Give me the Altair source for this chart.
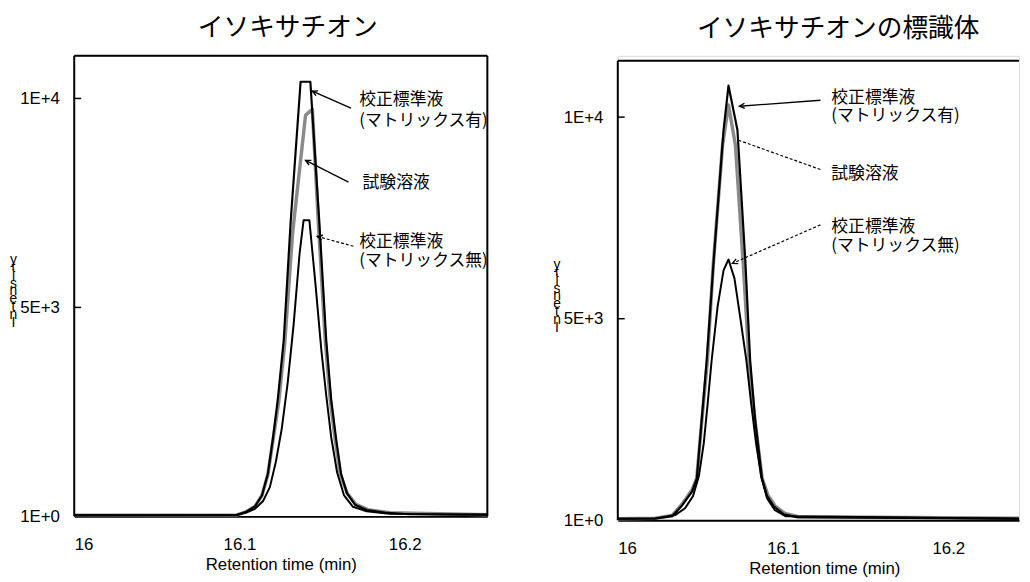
import math
import altair as alt
import pandas as pd

# ---------------- data ----------------
# Left panel: イソキサチオン
L_mat_t = [16.000, 16.0981, 16.1041, 16.1094, 16.1136, 16.1172, 16.1202, 16.1232, 16.1268, 16.1310, 16.1370,
           16.1429, 16.1483, 16.1525, 16.1555, 16.1585, 16.1615, 16.1651, 16.1699, 16.1770, 16.1878, 16.2028, 16.2500]
L_mat_v = [25, 30, 110, 240, 500, 1020, 1850, 2800, 4220, 7060, 10400,
           10400, 7060, 4220, 2800, 1850, 1020, 550, 280, 150, 90, 50, 40]
L_test_t = [16.000, 16.0981, 16.1041, 16.1094, 16.1136, 16.1172, 16.1202, 16.1238, 16.1274, 16.1322, 16.1400,
            16.1441, 16.1477, 16.1519, 16.1549, 16.1579, 16.1609, 16.1651, 16.1705, 16.1776, 16.1908, 16.2500]
L_test_v = [25, 30, 110, 240, 500, 1000, 1800, 2750, 4150, 6800, 9600,
            9740, 7060, 4220, 2800, 1850, 1020, 560, 290, 160, 90, 40]
L_nomat_t = [16.000, 16.0981, 16.1041, 16.1094, 16.1142, 16.1184, 16.1220, 16.1256, 16.1292, 16.1328, 16.1364,
             16.1388, 16.1423, 16.1459, 16.1495, 16.1525, 16.1555, 16.1591, 16.1633, 16.1687, 16.1770, 16.1908, 16.2500]
L_nomat_v = [25, 30, 90, 180, 360, 700, 1300, 2100, 3200, 4600, 6300,
             7085, 7085, 5600, 4000, 2900, 1900, 1050, 500, 230, 120, 60, 40]

# Right panel: イソキサチオンの標識体
R_mat_t = [16.000, 16.0227, 16.0329, 16.0389, 16.0449, 16.0478, 16.0508, 16.0538, 16.0580, 16.0640, 16.0670,
           16.0724, 16.0772, 16.0801, 16.0831, 16.0873, 16.0903, 16.0945, 16.1005, 16.1083, 16.2428]
R_mat_v = [40, 45, 100, 370, 710, 1030, 2500, 3970, 6420, 9680, 10780,
           9680, 6420, 3970, 2500, 1030, 610, 340, 150, 80, 40]
R_test_t = [16.000, 16.0227, 16.0329, 16.0389, 16.0449, 16.0478, 16.0508, 16.0541, 16.0577, 16.0634, 16.0670,
            16.0712, 16.0760, 16.0795, 16.0831, 16.0873, 16.0909, 16.0951, 16.1011, 16.1094, 16.2428]
R_test_v = [40, 50, 120, 400, 750, 1050, 2450, 3900, 6300, 9300, 10300,
            9300, 6300, 3900, 2450, 1050, 620, 360, 170, 90, 50]
R_nomat_t = [16.000, 16.0227, 16.0347, 16.0407, 16.0455, 16.0491, 16.0520, 16.0544, 16.0568, 16.0604, 16.0640,
             16.0670, 16.0706, 16.0742, 16.0778, 16.0807, 16.0837, 16.0867, 16.0903, 16.0951, 16.1017, 16.2428]
R_nomat_v = [40, 45, 130, 300, 600, 1100, 1900, 2900, 3970, 5300, 6200,
             6470, 6000, 5000, 3970, 2900, 1900, 1100, 550, 250, 100, 40]

panel_titles = ["イソキサチオン", "イソキサチオンの標識体"]
x_tick_values = [16, 16.1, 16.2]
x_tick_labels = ["16", "16.1", "16.2"]
y_tick_values = [0, 5000, 10000]
y_tick_labels = ["1E+0", "5E+3", "1E+4"]
x_title = "Retention time (min)"
y_title_letters = ["y", "t", "i", "s", "n", "e", "t", "n", "I"]

# annotations (text, t, v)
L_note_text = ["校正標準液", "(マトリックス有)", "試験溶液", "校正標準液", "(マトリックス無)"]
L_note_t = [16.1725, 16.1725, 16.1745, 16.1725, 16.1725]
L_note_v = [9960, 9464, 7975, 6557, 6108]
R_note_text = ["校正標準液", "(マトリックス有)", "試験溶液", "校正標準液", "(マトリックス無)"]
R_note_t = [16.1292, 16.1292, 16.1292, 16.1292, 16.1292]
R_note_v = [10466, 10025, 8579, 7279, 6814]

# arrows: tail t, tail v, tip t, tip v, dashed?, head?
L_arr = [(16.1675, 9771, 16.1441, 10173, False, True),
         (16.1660, 7999, 16.1400, 8518, False, True),
         (16.1690, 6463, 16.1471, 6699, True, True)]
R_arr = [(16.1226, 10417, 16.0736, 10270, False, True),
         (16.1226, 8701, 16.0724, 9436, True, False),
         (16.1226, 7328, 16.0694, 6373, True, True)]

FONT = "Liberation Sans"
JFONT = "Noto Sans CJK JP"
HEAD = "M -1 -0.5 L 0 0 L -1 0.5"


def label_expr(vals, labs):
    expr = "''"
    for v, l in reversed(list(zip(vals, labs))):
        expr = f"abs(datum.value - {v}) < 1e-6 ? '{l}' : ({expr})"
    return expr


def panel(title, curves, notes, arrows, xdom, ydom, W, H, top_gap, right_border, title_dx):
    x_enc = alt.X("t:Q", scale=alt.Scale(domain=xdom, nice=False, zero=False),
                  axis=alt.Axis(values=x_tick_values, labelExpr=label_expr(x_tick_values, x_tick_labels),
                                title=x_title, ticks=False, grid=False, domainColor="black", domainWidth=2,
                                labelFontSize=17, labelColor="black", labelPadding=21, labelFont=FONT,
                                titleFontSize=17, titleFontWeight="normal", titleColor="black", titleFont=FONT,
                                titlePadding=4, titleX=209))
    y_enc = alt.Y("v:Q", scale=alt.Scale(domain=ydom, nice=False, zero=True),
                  axis=alt.Axis(values=y_tick_values, labelExpr=label_expr(y_tick_values, y_tick_labels),
                                title=y_title_letters, titleAngle=0, titleX=-62, titleY=199 + top_gap,
                                titleAlign="center", titleBaseline="top", titleLineHeight=8,
                                titleFontSize=14, titleFontWeight="normal", titleColor="black", titleFont=FONT,
                                ticks=False, grid=False, domain=False,
                                labelFontSize=17, labelColor="black", labelPadding=15, labelFont=FONT))
    layers = []
    styles = [("test", "#8a8a8a", 3.5), ("nomat", "black", 2), ("mat", "black", 2.2)]
    for key, col, sw in styles:
        t, v = curves[key]
        df = pd.DataFrame({"t": t, "v": v})
        layers.append(alt.Chart(df).mark_line(color=col, strokeWidth=sw, strokeJoin="round")
                      .encode(x=x_enc, y=y_enc))
    # inward y ticks
    tk = pd.DataFrame({"v": y_tick_values[1:]})
    layers.append(alt.Chart(tk).mark_rule(color="black", strokeWidth=1.5)
                  .encode(y=y_enc, x=alt.value(0), x2=alt.value(7)))
    # frame: top, left (and right)
    dummy = pd.DataFrame({"a": [0]})
    layers.append(alt.Chart(dummy).mark_rule(color="black", strokeWidth=2)
                  .encode(x=alt.value(0), x2=alt.value(W), y=alt.value(top_gap)))
    layers.append(alt.Chart(dummy).mark_rule(color="black", strokeWidth=2)
                  .encode(x=alt.value(0), y=alt.value(top_gap), y2=alt.value(H)))
    if right_border:
        layers.append(alt.Chart(dummy).mark_rule(color="black", strokeWidth=2)
                      .encode(x=alt.value(W), y=alt.value(top_gap), y2=alt.value(H)))
    # notes
    ntext, nt, nv = notes
    ndf = pd.DataFrame({"txt": ntext, "t": nt, "v": nv})
    layers.append(alt.Chart(ndf).mark_text(align="left", baseline="middle", fontSize=17, font=JFONT,
                                           color="black")
                  .encode(x=x_enc, y=y_enc, text="txt:N"))
    # arrows
    rows = []
    for (t0, v0, t1, v1, dashed, head) in arrows:
        dx = (t1 - t0) * W / (xdom[1] - xdom[0])
        dy = -(v1 - v0) * H / (ydom[1] - ydom[0])
        ang = math.degrees(math.atan2(dy, dx)) % 360
        rows.append({"t": t0, "v": v0, "t2": t1, "v2": v1, "dashed": dashed, "head": head, "ang": ang})
    adf = pd.DataFrame(rows)
    solid = adf[~adf["dashed"]]
    dash = adf[adf["dashed"]]
    if len(solid):
        layers.append(alt.Chart(solid).mark_rule(color="black", strokeWidth=1.4)
                      .encode(x=x_enc, y=y_enc, x2="t2:Q", y2="v2:Q"))
    if len(dash):
        layers.append(alt.Chart(dash).mark_rule(color="black", strokeWidth=1.2, strokeDash=[3, 2])
                      .encode(x=x_enc, y=y_enc, x2="t2:Q", y2="v2:Q"))
    heads = adf[adf["head"]][["t2", "v2", "ang"]].rename(columns={"t2": "t", "v2": "v"})
    layers.append(alt.Chart(heads).mark_point(shape=HEAD, filled=False, color="black", strokeWidth=1.4,
                                              size=110, opacity=1)
                  .encode(x=x_enc, y=y_enc, angle=alt.Angle("ang:Q", scale=None)))
    return alt.layer(*layers).properties(
        width=W, height=H,
        title=alt.TitleParams(title, fontSize=26, font=JFONT, fontWeight="normal", color="black",
                              anchor="middle", frame="group", offset=14, dx=title_dx))


left = panel(panel_titles[0],
             {"mat": (L_mat_t, L_mat_v), "test": (L_test_t, L_test_v), "nomat": (L_nomat_t, L_nomat_v)},
             (L_note_text, L_note_t, L_note_v), L_arr,
             [16, 16.25], [0, 11020], 418, 466, 0, True, 7)
right = panel(panel_titles[1],
              {"mat": (R_mat_t, R_mat_v), "test": (R_test_t, R_test_v), "nomat": (R_nomat_t, R_nomat_v)},
              (R_note_text, R_note_t, R_note_v), R_arr,
              [16, 16.2428], [0, 11520], 406, 470, 5, False, 20)

chart = alt.hconcat(left, right, spacing=62).properties(
    padding={"left": 0, "top": 3, "right": 0, "bottom": 0}
).configure_view(strokeWidth=0).configure(font=FONT, background="white")

chart.save("out.html", embed_options={"renderer": "svg", "actions": False})
